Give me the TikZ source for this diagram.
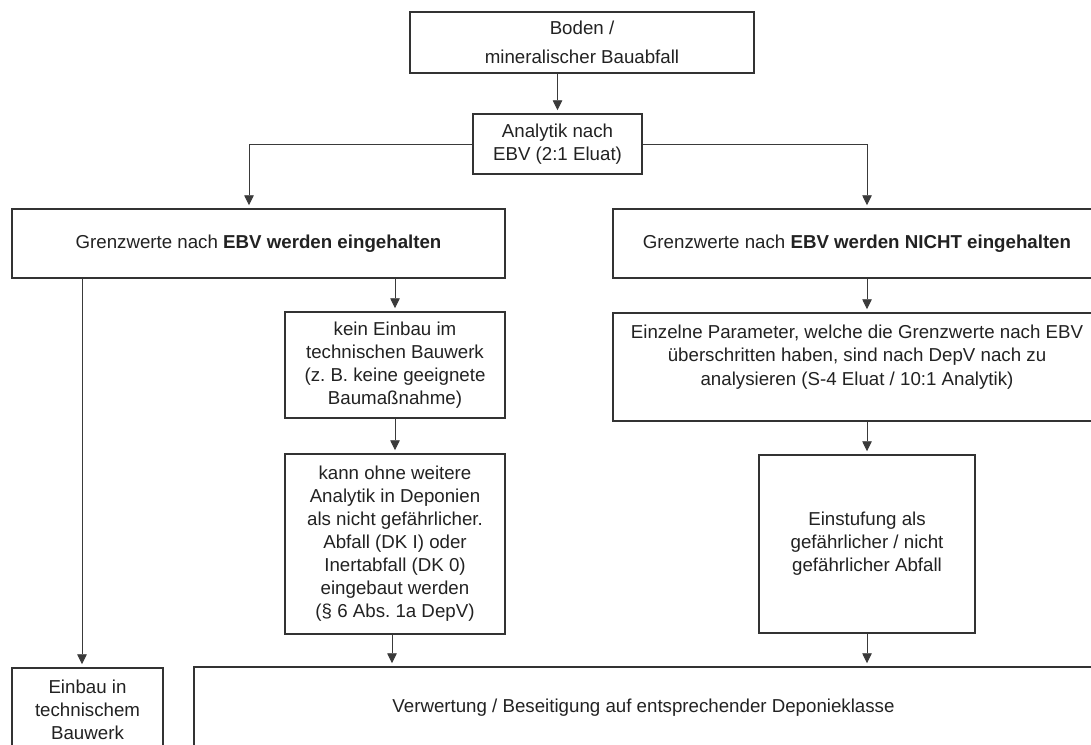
\documentclass[tikz,border=0pt]{standalone}
\usepackage{fontspec}
\setmainfont{Liberation Sans}
\usetikzlibrary{arrows.meta,calc}
\definecolor{ink}{HTML}{222222}
\definecolor{edge}{HTML}{333333}
\definecolor{wire}{HTML}{3A3A3A}
\frenchspacing
\begin{document}
\begin{tikzpicture}[x=1pt,y=-1pt,
  box/.style={draw=edge,line width=1.5pt,inner sep=0pt,align=center,text=ink,
    font=\fontsize{18.7}{23}\selectfont},
  txt/.style={inner sep=0pt,align=center,text=ink,font=\fontsize{18.7}{23.3}\selectfont},
  arr/.style={draw=wire,line width=0.9pt,-{Triangle[length=10pt,width=9.5pt]},shorten >=3pt}]
\clip (0,0) rectangle (1091,744);
\fill[white] (0,0) rectangle (1091,744);
% boxes
\node[box,minimum width=344pt,minimum height=61pt] (top) at (582,42.5) {Boden /\\[6.3pt]mineralischer Bauabfall};
\node[box,minimum width=169pt,minimum height=60pt] (ana) at (557.5,144) {Analytik nach\\EBV (2:1 Eluat)};
\node[box,minimum width=493pt,minimum height=69pt] (lbox) at (258.5,243.5) {Grenzwerte nach \textbf{EBV werden eingehalten}};
\node[box,minimum width=488pt,minimum height=69pt] (rbox) at (857,243.5) {Grenzwerte nach \textbf{EBV werden NICHT eingehalten}};
\node[box,minimum width=220pt,minimum height=106pt] (kein) at (395,365) {kein Einbau im\\technischen Bauwerk\\(z. B. keine geeignete\\Baumaßnahme)};
\node[box,minimum width=220pt,minimum height=180pt] (kann) at (395,544) {kann ohne weitere\\Analytik in Deponien\\als nicht gefährlicher.\\Abfall (DK I) oder\\Inertabfall (DK 0)\\eingebaut werden\\(§ 6 Abs. 1a DepV)};
\node[box,minimum width=488pt,minimum height=108pt] (einz) at (857,367) {};
\node[txt] (einzt) at (857,357) {Einzelne Parameter, welche die Grenzwerte nach EBV\\überschritten haben, sind nach DepV nach zu\\analysieren (S-4 Eluat / 10:1 Analytik)};
\node[box,minimum width=216pt,minimum height=178pt] (einst) at (867,544) {Einstufung als\\gefährlicher / nicht\\gefährlicher Abfall};
\node[box,minimum width=151pt,minimum height=84pt] (einbau) at (87.5,710) {Einbau in\\technischem\\Bauwerk};
\node[box,minimum width=899pt,minimum height=81pt] (bottom) at (643.5,707.5) {Verwertung / Beseitigung auf entsprechender Deponieklasse};
% connectors
\draw[arr] (top.south -| ana.north) -- (ana.north);
\draw[arr] (ana.west) -| ([xshift=-9.5pt]lbox.north);
\draw[arr] (ana.east) -| ([xshift=10pt]rbox.north);
\draw[arr] (lbox.south -| kein.north) -- (kein.north);
\draw[arr] ([xshift=-5.5pt]einbau.north |- lbox.south) -- ([xshift=-5.5pt]einbau.north);
\draw[arr] (kein.south) -- (kann.north);
\draw[arr] ([xshift=-3pt]kann.south) -- ([xshift=-3pt]kann.south |- bottom.north);
\draw[arr] (rbox.south -| einst.north) -- (einz.north -| einst.north);
\draw[arr] (einz.south -| einst.north) -- (einst.north);
\draw[arr] (einst.south) -- (einst.south |- bottom.north);
\end{tikzpicture}
\end{document}
